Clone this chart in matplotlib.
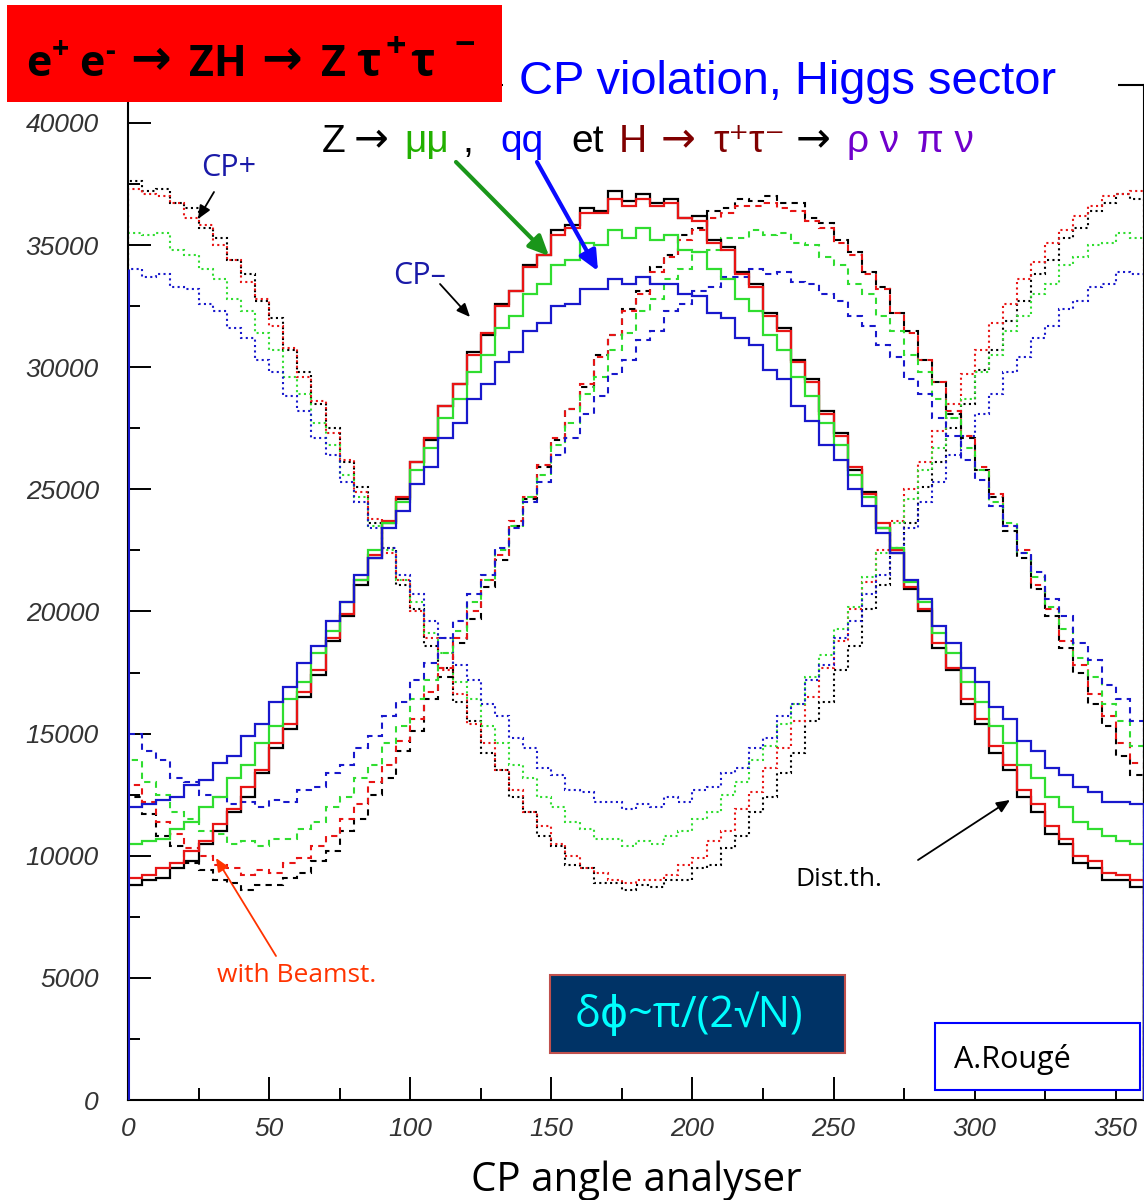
import matplotlib
matplotlib.use("Agg")
import matplotlib.pyplot as plt
from matplotlib.patches import Rectangle
import numpy as np

# ---------------- data (bin contents in units of 100 entries, 72 bins of 5 deg) -------------
bin_edges = np.linspace(0, 360, 73)
scale = 100

# CP-  (solid)
cpm_black = [88, 90, 91, 95, 98, 105, 110, 118, 124, 134, 144, 152, 165, 174, 188, 198, 211, 222,
             236, 246, 261, 270, 284, 293, 306, 313, 326, 331, 342, 346, 356, 358, 365, 364, 372, 368,
             371, 367, 369, 361, 362, 352, 349, 339, 334, 322, 316, 303, 295, 282, 273, 258, 249, 234,
             224, 209, 200, 185, 176, 162, 154, 142, 135, 124, 118, 109, 105, 97, 95, 90, 90, 87]
cpm_red = [91, 92, 95, 97, 102, 106, 113, 119, 128, 135, 146, 154, 167, 176, 189, 199, 213, 223,
           237, 247, 261, 271, 284, 293, 305, 314, 325, 331, 341, 346, 354, 357, 363, 363, 369, 366,
           369, 366, 367, 361, 360, 351, 348, 338, 333, 321, 315, 302, 294, 281, 272, 259, 248, 236,
           225, 210, 201, 187, 177, 164, 156, 145, 137, 127, 121, 112, 107, 100, 98, 93, 92, 90]
cpm_green = [105, 106, 107, 111, 114, 120, 124, 132, 137, 146, 153, 164, 171, 183, 192, 204, 213, 225,
             236, 245, 258, 267, 279, 287, 298, 305, 316, 321, 330, 334, 342, 344, 351, 350, 356, 353,
             357, 352, 354, 348, 347, 340, 336, 328, 323, 313, 307, 296, 288, 277, 268, 256, 247, 234,
             226, 212, 204, 191, 183, 171, 163, 153, 146, 137, 132, 124, 120, 114, 111, 108, 106, 105]
cpm_blue = [120, 121, 123, 124, 129, 131, 138, 141, 149, 154, 163, 169, 179, 186, 196, 204, 215, 222,
            234, 241, 252, 259, 271, 277, 287, 293, 302, 306, 315, 318, 325, 326, 332, 332, 336, 334,
            337, 334, 334, 330, 329, 322, 320, 312, 309, 299, 295, 284, 278, 268, 262, 250, 243, 232,
            224, 213, 205, 194, 187, 177, 171, 161, 156, 147, 143, 136, 133, 128, 126, 122, 122, 121]

# CP+  (dotted)
cpp_black = [376, 372, 373, 367, 365, 357, 353, 344, 338, 327, 320, 307, 298, 285, 275, 261, 251, 236,
             226, 211, 201, 186, 177, 163, 155, 142, 135, 124, 118, 108, 104, 96, 95, 89, 89, 86,
             88, 87, 90, 90, 95, 96, 103, 108, 118, 124, 134, 142, 155, 163, 176, 186, 201, 211,
             226, 236, 251, 261, 275, 285, 299, 307, 319, 327, 338, 344, 353, 357, 364, 367, 371, 369]
cpp_red = [373, 371, 370, 367, 361, 358, 350, 344, 335, 328, 317, 308, 296, 286, 273, 262, 249, 238,
           224, 213, 200, 189, 176, 166, 154, 146, 135, 127, 118, 112, 105, 100, 95, 93, 90, 89,
           90, 90, 92, 96, 99, 106, 110, 119, 126, 136, 144, 155, 165, 177, 188, 201, 212, 225,
           237, 250, 261, 274, 285, 297, 307, 318, 326, 336, 343, 351, 356, 362, 366, 370, 371, 372]
cpp_green = [355, 354, 355, 348, 346, 340, 336, 328, 323, 314, 307, 296, 289, 277, 268, 256, 247, 235,
             225, 213, 204, 191, 183, 171, 164, 153, 146, 137, 132, 124, 120, 114, 111, 107, 107, 104,
             106, 105, 108, 110, 115, 118, 125, 130, 139, 145, 154, 162, 173, 182, 193, 202, 214, 224,
             236, 246, 258, 267, 279, 287, 298, 305, 315, 321, 330, 334, 342, 345, 350, 351, 355, 353]
cpp_blue = [340, 337, 338, 333, 332, 326, 323, 316, 312, 303, 298, 288, 282, 271, 264, 253, 245, 234,
            226, 215, 207, 196, 189, 178, 172, 162, 157, 148, 144, 136, 133, 127, 126, 122, 122, 119,
            121, 120, 124, 122, 127, 128, 134, 136, 144, 148, 157, 162, 172, 178, 189, 196, 207, 215,
            226, 234, 245, 253, 264, 272, 281, 289, 298, 304, 312, 317, 324, 327, 333, 334, 339, 338]

# mixed CP (dashed)
mix_black = [124, 117, 108, 104, 97, 94, 90, 89, 86, 88, 88, 91, 93, 98, 102, 110, 115, 125, 132, 143, 151, 164, 173, 187, 197, 210, 221,
             235, 246, 259, 270, 283, 292, 305, 313, 324, 331, 341, 346, 354, 357, 364, 365, 369, 368,
             370, 367, 367, 361, 359, 352, 347, 339, 333, 322, 315, 303, 294, 281, 271, 258, 247, 233, 222, 209, 198, 185, 175, 162, 153, 141, 133]
mix_red = [129, 122, 114, 109, 103, 100, 96, 95, 92, 94, 93, 97, 99, 104, 108, 115, 121, 130, 137, 147, 156, 167, 177, 189, 200, 213, 223,
           237, 247, 260, 271, 283, 293, 304, 313, 323, 330, 339, 345, 352, 356, 361, 363, 366, 366,
           367, 365, 364, 360, 357, 351, 346, 338, 332, 322, 314, 303, 294, 282, 272, 259, 248, 235, 225, 211, 201, 188, 178, 166, 157, 146, 138]
mix_green = [139, 130, 125, 118, 115, 110, 109, 105, 106, 104, 107, 107, 111, 114, 120, 124, 132, 137, 146, 153, 164, 172, 183, 192, 204, 213, 225,
             235, 247, 256, 268, 277, 289, 296, 307, 314, 323, 328, 336, 340, 347, 348, 353, 353, 356,
             354, 355, 351, 350, 345, 342, 334, 330, 321, 315, 305, 298, 287, 279, 267, 258, 245, 236, 224, 214, 202, 193, 181, 173, 162, 155, 145]
mix_blue = [150, 143, 139, 132, 130, 125, 124, 121, 122, 120, 123, 122, 127, 128, 134, 137, 144, 149, 157, 163, 172, 179, 189, 196, 207, 215, 226,
            234, 245, 253, 264, 271, 281, 288, 297, 303, 311, 315, 323, 326, 331, 333, 337, 337, 340,
            338, 339, 335, 334, 330, 327, 321, 317, 309, 304, 295, 289, 279, 272, 262, 254, 243, 235, 224, 216, 205, 198, 187, 180, 170, 164, 155]

x_ticks = [0, 50, 100, 150, 200, 250, 300, 350]
y_ticks = [0, 5000, 10000, 15000, 20000, 25000, 30000, 35000, 40000]

# ---------------- figure -----------------
W, H = 1144, 1200
fig = plt.figure(figsize=(W / 100, H / 100), dpi=100)
fig.patch.set_facecolor("white")
ax = fig.add_axes([128 / W, 100 / H, 1 - 128 / W, (1100 - 85) / H])

C_BLACK, C_RED, C_GREEN, C_BLUE = "#000000", "#e81515", "#30dd30", "#1818cc"
cols = [C_BLACK, C_RED, C_GREEN, C_BLUE]

for vals, c in zip([cpp_black, cpp_red, cpp_green, cpp_blue], cols):
    ax.stairs(np.asarray(vals) * scale, bin_edges, baseline=0, color=c, lw=1.5,
              linestyle=(0, (1.0, 1.6)), zorder=2)
for vals, c in zip([mix_black, mix_red, mix_green, mix_blue], cols):
    ax.stairs(np.asarray(vals) * scale, bin_edges, baseline=0, color=c, lw=1.5,
              linestyle=(0, (3.0, 2.5)), zorder=2)
for i, (vals, c) in enumerate(zip([cpm_black, cpm_red, cpm_green, cpm_blue], cols)):
    ax.stairs(np.asarray(vals) * scale, bin_edges, baseline=0, color=c, lw=1.6,
              zorder=3 + 0.1 * i)
ax.vlines(bin_edges[0], 0, cpp_blue[0] * scale, color=C_BLUE, lw=2.2, zorder=4)

ax.set_xlim(0, 360)
ax.set_ylim(0, 41550)
ax.set_xticks(x_ticks)
ax.set_xticks(np.arange(25, 360, 50), minor=True)
ax.set_yticks(y_ticks)
ax.set_yticks(np.arange(2500, 40001, 5000), minor=True)
ax.set_xticklabels([str(v) for v in x_ticks])
ax.set_yticklabels([str(v) for v in y_ticks])
ax.tick_params(which="both", direction="in", top=False, right=False, width=1.4, color="black")
ax.tick_params(which="major", length=16.5)
ax.tick_params(which="minor", length=8.5)
ax.tick_params(axis="x", pad=12, labelsize=19, labelcolor="#333333")
ax.tick_params(axis="y", pad=21, labelsize=19, labelcolor="#333333")
for lab in ax.get_xticklabels() + ax.get_yticklabels():
    lab.set_fontstyle("italic")
    lab.set_fontfamily("Liberation Sans")
for s in ax.spines.values():
    s.set_linewidth(1.5)
    s.set_color("black")

ax.set_xlabel("CP angle analyser", fontsize=29, family="Open Sans", labelpad=14)

# ---------------- decorations (pixel coordinates, y from top) ----------------
def P(x, y):
    return (x / W, 1 - y / H)

def rect(x0, y0, x1, y1, **kw):
    r = Rectangle(P(x0, y1), (x1 - x0) / W, (y1 - y0) / H, transform=fig.transFigure, **kw)
    fig.patches.append(r)

def txt(x, y, s, **kw):
    kw.setdefault("ha", "left")
    kw.setdefault("va", "baseline")
    fig.text(*P(x, y), s, **kw)

# red title box
rect(7, 5, 502, 102, facecolor="#ff0000", edgecolor="none", zorder=5)
tf = dict(family=["Open Sans", "DejaVu Sans"], weight="bold", color="black", zorder=6)
af = dict(family="DejaVu Sans", weight="bold", color="black", zorder=6)
txt(26, 76, "e", fontsize=31, **tf)
txt(52, 58, "+", fontsize=22, **tf)
txt(79, 76, "e", fontsize=31, **tf)
txt(105, 60, "-", fontsize=22, **tf)
txt(130, 74, "\u2192", fontsize=35, **af)
txt(189, 76, "ZH", fontsize=31, **tf)
txt(261, 74, "\u2192", fontsize=35, **af)
txt(321, 76, "Z", fontsize=31, **tf)
txt(356, 76, "\u03c4", fontsize=33, **tf)
txt(385, 57, "+", fontsize=26, **tf)
txt(410, 76, "\u03c4", fontsize=33, **tf)
txt(455, 56, "\u2212", fontsize=26, **tf)

# white strip behind blue title
rect(503, 30, 1118, 108, facecolor="white", edgecolor="none", zorder=5)
txt(519, 94, "CP violation, Higgs sector", fontsize=33.8, family="Liberation Sans",
    color="#0000ff", zorder=6)

# sub title (coloured pieces)
sf = dict(fontsize=28, family=["Liberation Sans", "DejaVu Sans"], zorder=6)
ar = dict(fontsize=30, family="DejaVu Sans", zorder=6)
txt(322, 152, "Z", color="black", **sf)
txt(354, 151, "\u2192", color="black", **ar)
txt(404, 152, "\u03bc\u03bc", color="#22b000", **sf)
txt(462, 152, ",", color="black", **sf)
txt(500, 152, "qq", color="#0000ff", **sf)
txt(571, 152, "et", color="black", **sf)
txt(619, 152, "H", color="#800000", **sf)
txt(661, 151, "\u2192", color="#800000", **ar)
txt(713, 152, "\u03c4\u207a\u03c4\u207b", color="#800000", **sf)
txt(796, 151, "\u2192", color="black", **ar)
txt(847, 152, "\u03c1 \u03bd", color="#7000cc", **sf)
txt(917, 152, "\u03c0 \u03bd", color="#7000cc", **sf)

def arrow(x0, y0, x1, y1, color, lw, hw, hl):
    ax.annotate("", xy=(x1, H - y1), xytext=(x0, H - y0), xycoords="figure pixels",
                textcoords="figure pixels",
                arrowprops=dict(arrowstyle=f"-|>,head_width={hw},head_length={hl}",
                                color=color, lw=lw, shrinkA=0, shrinkB=0),
                zorder=7, annotation_clip=False)

arrow(456, 162, 549, 256, "#1a961a", 3.0, 0.55, 1.2)
arrow(537, 162, 598, 271, "#0a0aff", 3.0, 0.55, 1.2)

lf = dict(family="Open Sans", zorder=7)
txt(201, 176, "CP+", fontsize=22, color="#1a1aa8", **lf)
arrow(214, 192, 198, 219, "black", 1.3, 0.35, 0.8)
txt(393, 284, "CP\u2013", fontsize=22, color="#1a1aa8", **lf)
arrow(440, 284, 470, 317, "black", 1.3, 0.35, 0.8)

txt(217, 982, "with Beamst.", fontsize=19, color="#ff3300", **lf)
arrow(276, 956, 216, 858, "#ff3300", 1.3, 0.35, 0.8)
txt(795, 886, "Dist.th.", fontsize=19, color="black", **lf)
arrow(918, 860, 1010, 800, "black", 1.3, 0.35, 0.8)

rect(550, 975, 845, 1053, facecolor="#003366", edgecolor="#c0504d", lw=1.5, zorder=6)
fig.text(*P(689, 1016), "\u03b4\u03d5~\u03c0/(2\u221aN)", fontsize=31, color="#00ffff",
         family=["Open Sans", "DejaVu Sans"], ha="center", va="center", zorder=7)

rect(935, 1023, 1140, 1090, facecolor="white", edgecolor="#0000ff", lw=1.5, zorder=6)
txt(954, 1068, "A.Roug\u00e9", fontsize=22, color="black", family="Open Sans", zorder=7)

fig.savefig("out.png", dpi=100)
